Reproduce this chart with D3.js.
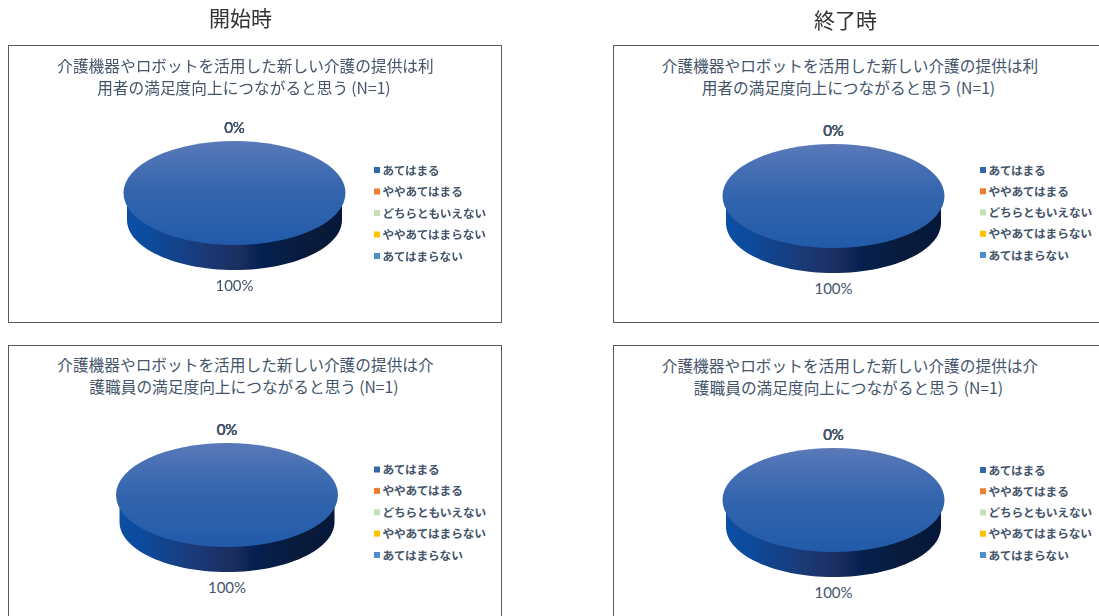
<!DOCTYPE html>
<html lang="ja">
<head>
<meta charset="utf-8">
<script src="https://d3js.org/d3.v7.min.js"></script>
<style>
  html, body { margin: 0; background: #fff; overflow: hidden; }
  svg { display: block; filter: blur(0.4px); }
  text { font-family: "Noto Sans CJK JP", sans-serif; }
  .heading { font-size: 21px; fill: #333; }
  .title { font-size: 15.7px; fill: #44546a; }
  .legend { font-size: 11.7px; font-weight: 700; fill: #44546a; letter-spacing: -0.17px; }
  .pct { font-family: Lato, sans-serif; font-size: 15px; fill: #44546a; }
</style>
</head>
<body>
<svg id="chart" width="1099" height="616"></svg>
<script>
const categories = ['あてはまる', 'ややあてはまる', 'どちらともいえない', 'ややあてはまらない', 'あてはまらない'];
const colors = ['#3566ae', '#ed7d31', '#c5e0b4', '#ffc000', '#4a90d0'];

const valuesStartUser = [100, 0, 0, 0, 0];
const valuesEndUser = [100, 0, 0, 0, 0];
const valuesStartStaff = [100, 0, 0, 0, 0];
const valuesEndStaff = [100, 0, 0, 0, 0];

const titleUser = ['介護機器やロボットを活用した新しい介護の提供は利', '用者の満足度向上につながると思う\u2009(N=1)\u2009'];
const titleStaff = ['介護機器やロボットを活用した新しい介護の提供は介', '護職員の満足度向上につながると思う\u2009(N=1)\u2009'];

const headings = ['開始時', '終了時'];

// layout of the four boxes
const panels = [
  {values: valuesStartUser, title: titleUser, box: [8, 45], cx: 234.5, cy: 193, titleX: 245.5, titleY: 66, legendX: 374, legendY: [170, 256]},
  {values: valuesEndUser, title: titleUser, box: [613, 45], cx: 833.5, cy: 196, titleX: 850, titleY: 66, legendX: 980, legendY: [170, 255]},
  {values: valuesStartStaff, title: titleStaff, box: [8, 345], cx: 227, cy: 495, titleX: 245.5, titleY: 365, legendX: 374, legendY: [469.5, 555]},
  {values: valuesEndStaff, title: titleStaff, box: [613, 345], cx: 833.5, cy: 500, titleX: 850, titleY: 366, legendX: 980, legendY: [470, 555]}
];

const boxWidth = 493;
const boxHeight = 277;
const rx = 111;
const ry = 52;
const wallRx = 107.5;
const wallRy = 50;
const wallDrop = 27;

const svg = d3.select('#chart');
const defs = svg.append('defs');

const topGradient = defs.append('linearGradient')
  .attr('id', 'topFill').attr('x1', 0).attr('y1', 0).attr('x2', 0).attr('y2', 1);
[['0%', '#5a79b9'], ['45%', '#3566ae'], ['100%', '#225aa9']].forEach(s => {
  topGradient.append('stop').attr('offset', s[0]).attr('stop-color', s[1]);
});

const sideGradient = defs.append('linearGradient')
  .attr('id', 'sideFill').attr('x1', 0).attr('y1', 0).attr('x2', 1).attr('y2', 0);
[['0%', '#0b4fa5'], ['10%', '#0c4b9e'], ['35%', '#1a3a78'], ['52%', '#1b2f60'], ['63%', '#04204f'], ['85%', '#0a1a3a'], ['100%', '#05183a']].forEach(s => {
  sideGradient.append('stop').attr('offset', s[0]).attr('stop-color', s[1]);
});

const color = d3.scaleOrdinal().domain(categories).range(colors);
const pie = d3.pie().sort(null).value(d => d.value);
const arc = d3.arc().innerRadius(0).outerRadius(1);

svg.selectAll('text.heading')
  .data(headings)
  .join('text')
  .attr('class', 'heading')
  .attr('text-anchor', 'middle')
  .attr('x', (d, i) => i === 0 ? 240.5 : 845.5)
  .attr('y', (d, i) => i === 0 ? 26 : 28)
  .text(d => d);

panels.forEach(panel => {
  const g = svg.append('g');

  g.append('rect')
    .attr('x', panel.box[0] + 0.5)
    .attr('y', panel.box[1] + 0.5)
    .attr('width', boxWidth)
    .attr('height', boxHeight)
    .attr('fill', '#fff')
    .attr('stroke', '#595959');

  g.selectAll('text.title')
    .data(panel.title)
    .join('text')
    .attr('class', 'title')
    .attr('text-anchor', 'middle')
    .attr('x', panel.titleX)
    .attr('y', (d, i) => panel.titleY + i * 22 + 5.5)
    .text(d => d);

  const slices = pie(panel.values.map((value, i) => ({value, category: categories[i]})));
  const visible = slices.filter(d => d.endAngle > d.startAngle);

  // side wall: a slightly narrower ellipse dropped below the top face, which covers its upper part
  const rim = d3.line();
  visible.forEach(d => {
    const a0 = Math.max(d.startAngle, Math.PI / 2);
    const a1 = Math.min(d.endAngle, Math.PI * 1.5);
    if (a1 <= a0) return;
    const angles = d3.range(0, 61).map(i => a0 + (a1 - a0) * i / 60);
    const front = angles.map(a => [panel.cx + wallRx * Math.sin(a), panel.cy - wallRy * Math.cos(a)]);
    const back = angles.slice().reverse().map(a => [panel.cx + wallRx * Math.sin(a), panel.cy - wallRy * Math.cos(a) + wallDrop]);
    g.append('path')
      .attr('d', rim(front.concat(back)) + 'Z')
      .attr('fill', d.index === 0 ? 'url(#sideFill)' : color(d.data.category));
  });

  // top face
  g.append('g')
    .attr('transform', `translate(${panel.cx},${panel.cy}) scale(${rx},${ry})`)
    .selectAll('path')
    .data(visible)
    .join('path')
    .attr('d', arc)
    .attr('fill', d => d.index === 0 ? 'url(#topFill)' : color(d.data.category));

  // data labels sit just off the rim, zero slices all land on the same spot at the top
  g.selectAll('text.pct')
    .data(slices)
    .join('text')
    .attr('class', 'pct')
    .attr('text-anchor', 'middle')
    .attr('x', d => panel.cx + (rx + 14) * Math.sin((d.startAngle + d.endAngle) / 2))
    .attr('y', d => {
      const c = Math.cos((d.startAngle + d.endAngle) / 2);
      return panel.cy - (c < 0 ? ry + 41 : ry + 13) * c + 5;
    })
    .text(d => d3.format('.0f')(d.data.value) + '%');

  // legend
  const legendScale = d3.scalePoint().domain(categories).range(panel.legendY);
  const legend = g.selectAll('g.legend')
    .data(categories)
    .join('g')
    .attr('class', 'legend')
    .attr('transform', d => `translate(${panel.legendX},${legendScale(d)})`);

  legend.append('rect')
    .attr('x', 0).attr('y', -3).attr('width', 6).attr('height', 6)
    .attr('fill', d => color(d));

  legend.append('text')
    .attr('class', 'legend')
    .attr('x', 8.5)
    .attr('y', 4.5)
    .text(d => d);
});
</script>
</body>
</html>
